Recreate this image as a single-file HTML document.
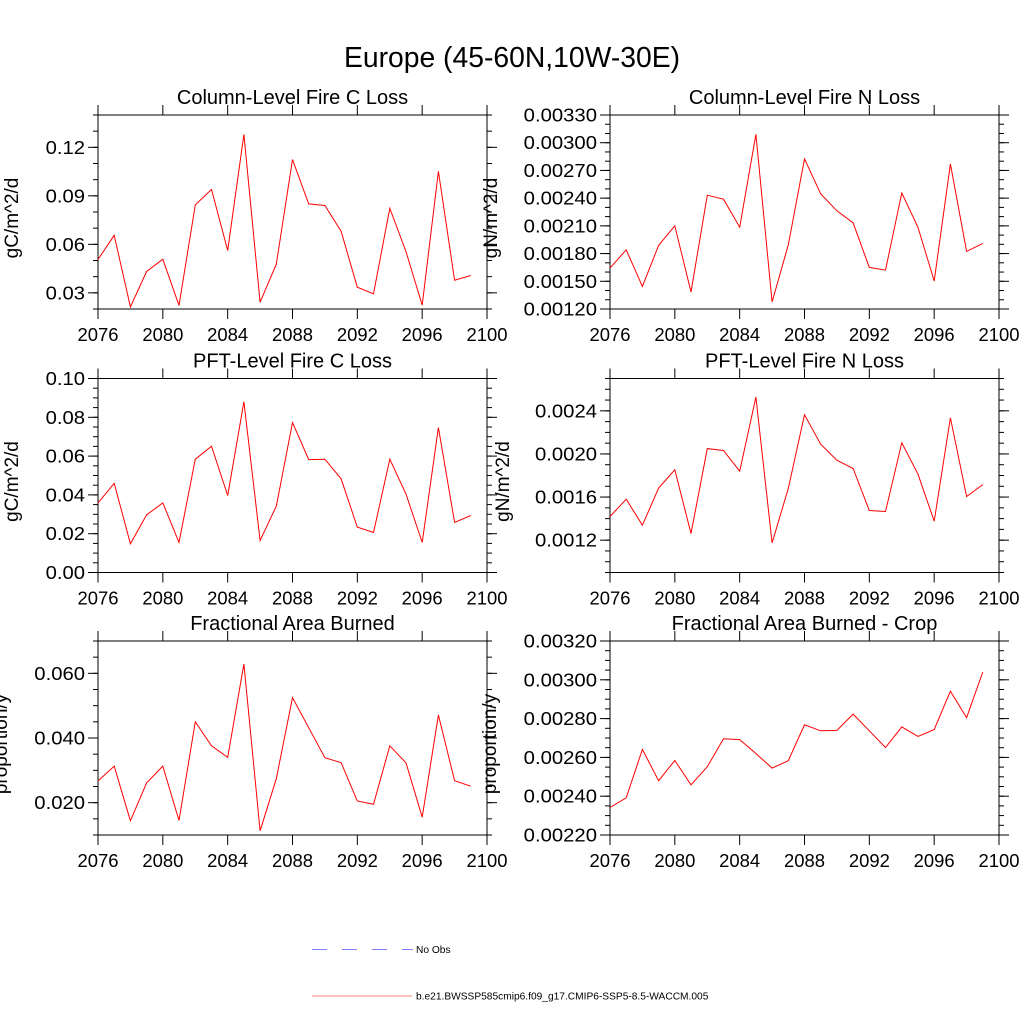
<!DOCTYPE html>
<html><head><meta charset="utf-8"><style>
html,body{margin:0;padding:0;background:#fff;}
svg{display:block;font-family:"Liberation Sans",sans-serif;}
</style></head><body>
<svg id="chart" width="1024" height="1024" xmlns="http://www.w3.org/2000/svg">
<rect width="1024" height="1024" fill="#fff"/>
<text x="512" y="67" font-size="28.3" text-anchor="middle">Europe (45-60N,10W-30E)</text>
<g>
<line x1="312" y1="949.5" x2="413" y2="949.5" stroke="#7f7fff" stroke-width="1" stroke-dasharray="15,15"/>
<text x="416" y="953" font-size="10.2">No Obs</text>
<line x1="312" y1="996" x2="412" y2="996" stroke="#ff8080" stroke-width="1"/>
<text x="416" y="999.5" font-size="10.2">b.e21.BWSSP585cmip6.f09_g17.CMIP6-SSP5-8.5-WACCM.005</text>
</g>
</svg>
<script>
const years = [2076,2077,2078,2079,2080,2081,2082,2083,2084,2085,2086,2087,2088,2089,2090,2091,2092,2093,2094,2095,2096,2097,2098,2099];
const xTicks = [2076,2080,2084,2088,2092,2096,2100];
const colCLoss = [0.0506,0.0656,0.0213,0.0432,0.0508,0.0222,0.0844,0.094,0.0562,0.128,0.0242,0.0477,0.1124,0.085,0.084,0.0681,0.0335,0.0294,0.0823,0.0555,0.0224,0.1052,0.0378,0.0407];
const colNLoss = [0.001643,0.001841,0.001445,0.001888,0.002101,0.001384,0.002432,0.002389,0.002086,0.003091,0.001276,0.001895,0.002825,0.002446,0.002263,0.002133,0.00165,0.001621,0.002457,0.002083,0.001503,0.00277,0.001823,0.00191];
const pftCLoss = [0.0359,0.046,0.0148,0.0297,0.0359,0.0155,0.0584,0.0651,0.0397,0.088,0.0165,0.0342,0.0773,0.0582,0.0584,0.0483,0.0234,0.0206,0.0584,0.0404,0.0155,0.0747,0.0258,0.0294];
const pftNLoss = [0.00142,0.00158,0.001339,0.001682,0.001853,0.001262,0.00205,0.002032,0.00184,0.002527,0.001175,0.00168,0.002363,0.00209,0.001942,0.001865,0.001475,0.001466,0.002103,0.001812,0.001376,0.002335,0.001605,0.001716];
const areaBurned = [0.0267,0.0313,0.0144,0.0261,0.0313,0.0145,0.045,0.0376,0.034,0.0629,0.0113,0.0274,0.0525,0.0432,0.0339,0.0324,0.0205,0.0195,0.0376,0.0323,0.0155,0.0471,0.0268,0.0251];
const areaBurnedCrop = [0.002342,0.002392,0.002641,0.00248,0.002584,0.002459,0.002552,0.002696,0.002692,0.00262,0.002545,0.002583,0.002768,0.002737,0.002739,0.002823,0.002737,0.002651,0.002757,0.002708,0.002744,0.002941,0.002805,0.00304];
const yTicksColC = ["0.03","0.06","0.09","0.12"];
const yTicksColN = ["0.00120","0.00150","0.00180","0.00210","0.00240","0.00270","0.00300","0.00330"];
const yTicksPftC = ["0.00","0.02","0.04","0.06","0.08","0.10"];
const yTicksPftN = ["0.0012","0.0016","0.0020","0.0024"];
const yTicksArea = ["0.020","0.040","0.060"];
const yTicksCrop = ["0.00220","0.00240","0.00260","0.00280","0.00300","0.00320"];

const NS="http://www.w3.org/2000/svg";
const svg=document.getElementById('chart');
function mk(tag,attrs,parent){const e=document.createElementNS(NS,tag);for(const k in attrs)e.setAttribute(k,attrs[k]);(parent||svg).appendChild(e);return e;}

const panels=[
 {name:'col-c-loss',title:'Column-Level Fire C Loss',ylab:'gC/m^2/d',x0:98,y0:115,data:colCLoss,ymin:0.02,ymax:0.14,ticks:yTicksColC,minor:0.01,labx:18},
 {name:'col-n-loss',title:'Column-Level Fire N Loss',ylab:'gN/m^2/d',x0:610,y0:115,data:colNLoss,ymin:0.0012,ymax:0.0033,ticks:yTicksColN,minor:0.0001,labx:497},
 {name:'pft-c-loss',title:'PFT-Level Fire C Loss',ylab:'gC/m^2/d',x0:98,y0:378.5,data:pftCLoss,ymin:0,ymax:0.1,ticks:yTicksPftC,minor:0.005,labx:18},
 {name:'pft-n-loss',title:'PFT-Level Fire N Loss',ylab:'gN/m^2/d',x0:610,y0:378.5,data:pftNLoss,ymin:0.0009,ymax:0.0027,ticks:yTicksPftN,minor:0.0001,labx:509},
 {name:'area-burned',title:'Fractional Area Burned',ylab:'proportion/y',x0:98,y0:641,data:areaBurned,ymin:0.01,ymax:0.07,ticks:yTicksArea,minor:0.005,labx:7},
 {name:'area-burned-crop',title:'Fractional Area Burned - Crop',ylab:'proportion/y',x0:610,y0:641,data:areaBurnedCrop,ymin:0.0022,ymax:0.0032,ticks:yTicksCrop,minor:0.00005,labx:496}
];
const W=389,H=194;
panels.forEach(p=>{
  const g=mk('g',{});
  
  
  const xs=v=>p.x0+(v-2076)/24*W;
  const ys=v=>p.y0+H-(v-p.ymin)/(p.ymax-p.ymin)*H;
  const nMin=Math.round((p.ymax-p.ymin)/p.minor);
  for(let i=0;i<=nMin;i++){
    const y=p.y0+H-i/nMin*H;
    mk('line',{x1:p.x0-5,x2:p.x0,y1:y,y2:y,stroke:'#000','stroke-width':1},g);
    mk('line',{x1:p.x0+W,x2:p.x0+W+5,y1:y,y2:y,stroke:'#000','stroke-width':1},g);
  }
  p.ticks.forEach(t=>{
    const y=ys(parseFloat(t));
    mk('line',{x1:p.x0-10,x2:p.x0,y1:y,y2:y,stroke:'#000','stroke-width':1},g);
    mk('line',{x1:p.x0+W,x2:p.x0+W+10,y1:y,y2:y,stroke:'#000','stroke-width':1},g);
    const tx=mk('text',{x:p.x0-13,y:y+6.5,'font-size':18,'text-anchor':'end','textLength':(t.length-1)*11.3+5.5,'lengthAdjust':'spacingAndGlyphs'},g);
    
    
    tx.textContent=t;
  });
  xTicks.forEach(t=>{
    const x=xs(t);
    mk('line',{x1:x,x2:x,y1:p.y0-10,y2:p.y0,stroke:'#000','stroke-width':1},g);
    mk('line',{x1:x,x2:x,y1:p.y0+H,y2:p.y0+H+10,stroke:'#000','stroke-width':1},g);
    const tx=mk('text',{x:x,y:p.y0+H+32,'font-size':18.5,'text-anchor':'middle','textLength':41,'lengthAdjust':'spacingAndGlyphs'},g);
    
    
    tx.textContent=t;
  });
  mk('rect',{x:p.x0,y:p.y0,width:W,height:H,fill:'none',stroke:'#000','stroke-width':1},g);
  const pts=years.map((yr,i)=>xs(yr).toFixed(1)+','+ys(p.data[i]).toFixed(1)).join(' ');
  const line=mk('polyline',{points:pts,fill:'none',stroke:'#ff0000','stroke-width':1},g);
  
  
  const tt=mk('text',{x:p.x0+W/2,y:p.y0-11,'font-size':20,'text-anchor':'middle'},g);
  
  
  tt.textContent=p.title;
  const cy=p.y0+H/2;
  const yl=mk('text',{x:p.labx,y:cy+6,'font-size':19,'text-anchor':'middle',transform:'rotate(-90 '+p.labx+' '+(cy+6)+')'},g);
  
  
  yl.textContent=p.ylab;
});
</script>
</body></html>
